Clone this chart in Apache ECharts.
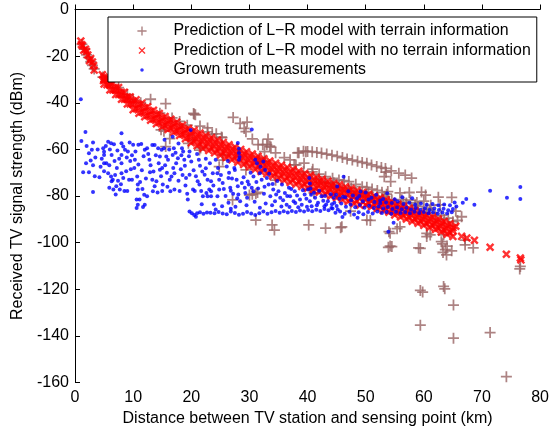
<!DOCTYPE html>
<html>
<head>
<meta charset="utf-8">
<script src="https://cdn.jsdelivr.net/npm/echarts@6/dist/echarts.min.js"></script>
<style>
  html, body { margin: 0; padding: 0; background: #fff; }
  #chart { width: 552px; height: 432px; }
</style>
</head>
<body>
<div id="chart"></div>
<script>
const xRange = [0, 80, 10];
const yRange = [-160, 0, 20];

const seriesNames = [
  "Prediction of L\u2212R model with terrain information",
  "Prediction of L\u2212R model with no terrain information",
  "Grown truth measurements",
];

// L-R prediction using terrain (brown +)
const terrainPoints = [
  [1.2, -15], [1.6, -17], [2.0, -19.5], [2.3, -20.5], [2.7, -22.5], [3.0, -24], [3.3, -25.5], [4.8, -29], [5.5, -30.5],
  [6.0, -31], [7.5, -33.5], [9.0, -36.5], [10.0, -38.8], [11.3, -40], [13.0, -38.5], [15.6, -40.4], [14.6, -44.5],
  [16.7, -46.5], [18.0, -48], [19.3, -49.6], [20.4, -44.6], [20.7, -45.2], [20.5, -44.9], [21.5, -50], [22.8, -50.8],
  [24.3, -53.3], [25.3, -55], [27.2, -46.3], [28.4, -48.8], [29.1, -51], [29.6, -48.3], [29.4, -52.4], [30.5, -55.5],
  [31.5, -58], [33.2, -55.6], [33.5, -58.6], [32.3, -58], [32.6, -61], [34.5, -61.5], [36.0, -63.5], [37.0, -64.5],
  [38.3, -61.5], [39.7, -61], [22.8, -52.5], [23.6, -53.5], [25.2, -54.7],
  [15.3, -52.2], [16.3, -55.4], [14.8, -51.6], [15.6, -58.8], [19.5, -57.4], [20.2, -56], [21.6, -59.4], [21.4, -60.3],
  [25.4, -62.4], [25.4, -64.6], [24.8, -67.4], [31.7, -63.8], [29.4, -68.8], [34.5, -73.2], [38.0, -66.7], [39.3, -69.6],
  [32.7, -65], [37.7, -66.6], [39.4, -65.9], [40.9, -68.5], [33.0, -58], [33.7, -59],
  [31.1, -79], [30.5, -79.3], [30.0, -79.6], [31.4, -78.5], [27.1, -81.7], [40.6, -77.4], [41.1, -78.7],
  [31.1, -90.3], [33.9, -92.4], [34.3, -94.6], [40.2, -92.4], [43.1, -93.8], [45.7, -93.6],
  [38.5, -61.4], [39.3, -60.8], [40.0, -60.9], [40.8, -61], [41.6, -61.3], [42.4, -61.6], [43.3, -62], [44.2, -62.5],
  [45.1, -63], [46.0, -63.5], [46.8, -64.1], [47.7, -64.6], [48.6, -65.1], [49.4, -65.6], [50.2, -66], [51.0, -66.7],
  [51.9, -67.3], [52.7, -67.8], [53.4, -68.2], [53.5, -69.8], [54.4, -69.2], [55.7, -70.2], [56.8, -71], [57.9, -72.3],
  [53.2, -71.7], [54.3, -73.8], [53.8, -78.1],
  [40.8, -69.6], [42.0, -70.6], [43.1, -71.7], [44.3, -72.4], [45.4, -73.1], [46.3, -73.4], [47.1, -73.8], [48.3, -75],
  [49.4, -76], [50.2, -76.3], [51.1, -77], [52.0, -77.6], [52.8, -78.4], [53.6, -79.2], [54.5, -81.7], [55.9, -78.7],
  [57.5, -78.5], [59.6, -78.3], [60.3, -79.6], [62.5, -80.5], [64.8, -80.6],
  [42.0, -74], [44.0, -75.8], [46.0, -77.5], [48.0, -78.8], [50.0, -80], [52.0, -81], [54.0, -82.5], [56.0, -84],
  [57.0, -83], [58.0, -85.5], [59.0, -84.5], [60.0, -87], [61.0, -86], [62.0, -88.5], [63.5, -90], [65.0, -91], [66.5, -88.9],
  [43.0, -74.6], [45.0, -76.5], [47.0, -78], [49.0, -79.3], [51.0, -80.5], [53.0, -81.8], [55.0, -83.2], [56.5, -82.6],
  [58.5, -84], [60.5, -85.2], [61.5, -87.2], [63.0, -88.3], [64.2, -89.5], [41.5, -72.8], [44.5, -74.3], [47.5, -76.6],
  [50.5, -78.4], [53.3, -80.2], [56.2, -81.6], [58.8, -82.8], [61.2, -84], [57.7, -81.8], [60.0, -82.2], [62.8, -83.8],
  [65.5, -86.5], [65.8, -90.5],
  [45.9, -93.2], [47.4, -86.5], [50.2, -90.3], [50.8, -90.5], [54.0, -95.3], [54.2, -96], [55.4, -94], [55.9, -93.2],
  [53.9, -102], [54.5, -101.7], [54.2, -101.5], [59.1, -102.3], [59.4, -102.5], [60.5, -96], [60.5, -97.4], [61.1, -96.7],
  [63.0, -99.6], [63.4, -96.7], [63.2, -100.5], [63.7, -103], [63.9, -105.3], [64.0, -101.5], [64.8, -103.5], [63.3, -104.2],
  [67.1, -98.9], [67.1, -101], [68.5, -102.3],
  [63.4, -118.8], [63.6, -119.8], [59.4, -120.5], [59.8, -121.2], [65.1, -126.8], [59.4, -135.4], [65.1, -141],
  [71.4, -138.6], [74.2, -157.5], [76.5, -111.3], [76.6, -110.2],
];

// L-R prediction without terrain (red x): start, band edges, band middle rows, then the tail
const noTerrainStart = [
  [1.1, -15], [1.3, -15.5], [1.8, -17], [2.2, -19.5], [2.7, -21], [3.2, -24], [4.9, -30.5],
];
const noTerrainBand = [
  [1.0, -13.5], [1.5, -17.5], [2.0, -18], [2.5, -22], [3.0, -22.5], [3.3, -26], [4.7, -28],
  [5.0, -32], [5.5, -29.3], [6.0, -34.5], [6.5, -31.5], [7.0, -36.5], [7.5, -33.5], [8.0, -38.5], [8.5, -35.5],
  [9.0, -40.5], [9.5, -37.5], [10.0, -43], [10.5, -38.7], [11.0, -44.5], [11.5, -40.2], [12.0, -46], [12.5, -41.7],
  [13.0, -47.5], [13.5, -43.2], [14.0, -49], [14.5, -44.6], [15.0, -50.3], [15.5, -45.9], [16.0, -51.5], [16.5, -47.1],
  [17.0, -52.7], [17.5, -48.3], [18.0, -54], [18.5, -49.7], [19.0, -55.4], [19.5, -51], [20.0, -57.2], [20.5, -51.8],
  [21.0, -58.4], [21.5, -53], [22.0, -59.5], [22.5, -54], [23.0, -60.5], [23.5, -55], [24.0, -61.5], [24.5, -56],
  [25.0, -62.5], [25.5, -57], [26.0, -63.5], [26.5, -58], [27.0, -64.5], [27.5, -59], [28.0, -65.5], [28.5, -60],
  [29.0, -66.5], [29.5, -61], [30.0, -67.5], [30.5, -62], [31.0, -68.5], [31.5, -63], [32.0, -69.5], [32.5, -64],
  [33.0, -70.5], [33.5, -65], [34.0, -71.5], [34.5, -65.9], [35.0, -72.4], [35.5, -66.8], [36.0, -73.3], [36.5, -67.7],
  [37.0, -74.2], [37.5, -68.6], [38.0, -75], [38.5, -69.4], [39.0, -75.9], [39.5, -70.3], [40.0, -76.7], [40.5, -71.1],
  [41.0, -77.6], [41.5, -72], [42.0, -78.4], [42.5, -72.8], [43.0, -79.3], [43.5, -73.7], [44.0, -80.1], [44.5, -74.6],
  [45.0, -80.8], [45.5, -75.2], [46.0, -81.6], [46.5, -76], [47.0, -82.4], [47.5, -76.8], [48.0, -83.2], [48.5, -77.6],
  [49.0, -84], [49.5, -78.4], [50.0, -83.8], [50.5, -79.2], [51.0, -84.6], [51.5, -80], [52.0, -85.4], [52.5, -80.8],
  [53.0, -86.2], [53.5, -81.6], [54.0, -87], [54.5, -82.4], [55.0, -88.1], [55.5, -83.5], [56.0, -89], [56.5, -84.4],
  [57.0, -89.9], [57.5, -85.3], [58.0, -90.8], [58.5, -86.2], [59.0, -91.7], [59.5, -87.1], [60.0, -92.6], [60.5, -88],
  [61.0, -93.5], [61.5, -88.9], [62.0, -94.4], [62.5, -89.9], [63.0, -95.4], [63.5, -90.9], [64.0, -96.4], [64.5, -91.9],
  [65.0, -97.4], [65.5, -93],
];
const noTerrainMid = [
  [5, -30], [6, -32.5], [7, -34.5], [8, -36.5], [9, -38.5], [10, -40.5], [11, -42], [12, -43.5], [13, -45], [14, -46.5],
  [15, -47.8], [16, -49], [17, -50.2], [18, -51.5], [19, -52.9], [20, -54.2], [21, -55.4], [22, -56.5], [23, -57.5],
  [24, -58.5], [25, -59.5], [26, -60.5], [27, -61.5], [28, -62.5], [29, -63.5], [30, -64.5], [31, -65.5], [32, -66.5],
  [33, -67.5], [34, -68.5], [35, -69.4], [36, -70.3], [37, -71.2], [38, -72], [39, -72.9], [40, -73.7], [41, -74.6],
  [42, -75.4], [43, -76.3], [44, -77.1], [45, -77.8], [46, -78.6], [47, -79.4], [48, -80.2], [49, -81], [50, -81.3],
  [51, -82.1], [52, -82.9], [53, -83.7], [54, -84.5], [55, -85.6], [56, -86.5], [57, -87.4], [58, -88.3], [59, -89.2],
  [60, -90.1], [61, -91], [62, -91.9], [63, -92.9], [64, -93.9], [65, -94.9],
];
const noTerrainUpper = [
  [5, -29], [6, -31.5], [7, -33.5], [8, -35.5], [9, -37.5], [10, -39.3], [11, -40.8], [12, -42.3], [13, -43.8],
  [14, -45.3], [15, -46.6], [16, -47.8], [17, -49], [18, -50.3], [19, -51.7], [20, -52.7], [21, -53.9], [22, -55],
  [23, -56], [24, -57], [25, -58], [26, -59], [27, -60], [28, -61], [29, -62], [30, -63], [31, -64], [32, -65], [33, -66],
  [34, -67], [35, -67.9], [36, -68.8], [37, -69.7], [38, -70.5], [39, -71.4], [40, -72.2], [41, -73.1], [42, -73.9],
  [43, -74.8], [44, -75.6], [45, -76.3], [46, -77.1], [47, -77.9], [48, -78.7], [49, -79.5], [50, -80], [51, -80.8],
  [52, -81.6], [53, -82.4], [54, -83.2], [55, -84.3], [56, -85.2], [57, -86.1], [58, -87], [59, -87.9], [60, -88.8],
  [61, -89.7], [62, -90.6], [63, -91.6], [64, -92.6], [65, -93.6],
];
const noTerrainLower = [
  [5.5, -32.3], [6.5, -34.5], [7.5, -36.5], [8.5, -38.5], [9.5, -40.5], [10.5, -42.5], [11.5, -44], [12.5, -45.5],
  [13.5, -47], [14.5, -48.4], [15.5, -49.7], [16.5, -50.9], [17.5, -52.1], [18.5, -53.5], [19.5, -54.8], [20.5, -56.3],
  [21.5, -57.5], [22.5, -58.5], [23.5, -59.5], [24.5, -60.5], [25.5, -61.5], [26.5, -62.5], [27.5, -63.5], [28.5, -64.5],
  [29.5, -65.5], [30.5, -66.5], [31.5, -67.5], [32.5, -68.5], [33.5, -69.5], [34.5, -70.4], [35.5, -71.3], [36.5, -72.2],
  [37.5, -73.1], [38.5, -73.9], [39.5, -74.8], [40.5, -75.6], [41.5, -76.5], [42.5, -77.3], [43.5, -78.2], [44.5, -79],
  [45.5, -79.7], [46.5, -80.5], [47.5, -81.3], [48.5, -82.1], [49.5, -82.5], [50.5, -83], [51.5, -83.8], [52.5, -84.6],
  [53.5, -85.4], [54.5, -86.3], [55.5, -87.3], [56.5, -88.3], [57.5, -89.1], [58.5, -90], [59.5, -90.9], [60.5, -91.8],
  [61.5, -92.7], [62.5, -93.7], [63.5, -94.7], [64.5, -95.7],
];
const noTerrainTail = [
  [66.5, -97.3], [67.4, -98], [68.7, -99], [71.4, -102], [74.2, -105], [76.6, -106.6], [76.7, -107.4],
];

// measured signal strength (blue dots)
const measuredNear = [
  [1.0, -38.5], [1.1, -56.4], [1.8, -52.6], [3.1, -57], [2.4, -61.7], [2.7, -64.8], [3.1, -66.8], [1.4, -69.8],
  [2.4, -69.8], [3.1, -78.3], [4.85, -59.5], [5.0, -61], [5.0, -62.4], [5.7, -56.7], [6.2, -57.4], [6.7, -57.8],
  [6.3, -62.4], [5.0, -66], [5.4, -66], [5.9, -66.8], [5.0, -69.4], [5.7, -70.2], [6.2, -71.6], [6.5, -73], [6.3, -73.7],
  [5.9, -76.5], [6.6, -77.2], [7.1, -75.8], [7.0, -79.4], [8.0, -53.1], [8.0, -57.4], [8.3, -58.8], [8.0, -62.4],
  [8.0, -66], [8.6, -60.2], [9.1, -60.9], [8.8, -69.4], [8.0, -70.2], [8.3, -72.3], [7.7, -77.2], [8.5, -77.9],
  [9.0, -77.9], [9.3, -73], [10.0, -58], [10.9, -58], [11.4, -57.7], [10.4, -60.9], [10.2, -68], [10.7, -71.6],
  [9.8, -73], [10.8, -75.1], [10.8, -77.2], [10.6, -81.5], [11.1, -81.5], [10.8, -83.7], [10.6, -85.1], [12.0, -83.7],
  [11.7, -84.7], [12.0, -60.2], [12.4, -59.5], [12.8, -64.5], [13.0, -66.8], [13.3, -58.1], [13.7, -58.1], [13.3, -73],
  [13.7, -75.8], [14.0, -73.7], [12.4, -80.1], [14.3, -59.5], [14.6, -63.1], [14.6, -68.7], [15.0, -68], [14.9, -60.2],
  [15.3, -59.5], [15.4, -55.9], [15.1, -75.1], [15.0, -77.9], [15.7, -63.1], [16.0, -64.5], [16.3, -73], [16.6, -71.6],
  [16.8, -62.4], [17.0, -59.5], [17.1, -70.2], [17.7, -63.8], [17.4, -66], [17.1, -77.2], [18.0, -77.9], [18.4, -59.5],
  [18.6, -60.9], [18.8, -64.5], [19.1, -72.3], [19.4, -81.5], [19.7, -60.9], [20.0, -65.2], [19.7, -70.9], [20.3, -77.2],
  [20.6, -77.9], [21.1, -73.7], [21.4, -75.1], [21.7, -77.9], [22.0, -80.1], [22.6, -78.7], [22.3, -70.9], [23.1, -77.2],
  [23.4, -80.1], [16.8, -54.6], [19.9, -51.7], [3.9, -60], [4.2, -72], [7.3, -60.5], [7.6, -64], [9.5, -65], [9.6, -68.5],
  [11.8, -63], [11.5, -69], [12.2, -72.5], [13.5, -69.5], [14.2, -78.5], [16.4, -78], [18.2, -68.5], [19.0, -75.5],
  [17.8, -73.5], [21.0, -62], [21.5, -67], [22.5, -64],
];
const measuredExtra = [
  [2.0, -58.5], [2.9, -60.2], [3.5, -63.5], [1.9, -66], [3.4, -71.5], [4.6, -64], [4.4, -67.5], [5.3, -58.5], [6.0, -60],
  [6.8, -65], [7.2, -68], [6.9, -71], [7.4, -73.5], [7.9, -75], [8.9, -63.5], [9.4, -57], [9.8, -62.5], [10.3, -64.5],
  [10.9, -66.5], [11.2, -74], [11.6, -77], [11.9, -79.5], [12.6, -62], [12.9, -69.8], [13.4, -78], [13.9, -62.5],
  [14.4, -66], [14.8, -71.5], [15.5, -66.8], [15.8, -70], [15.9, -76], [16.2, -60], [16.9, -68], [17.3, -61.5],
  [17.8, -57.5], [18.3, -62.5], [18.5, -71], [18.9, -67], [19.3, -79], [19.6, -63], [20.4, -69], [20.8, -71.5],
  [21.3, -64.5], [21.9, -69.5], [22.8, -73], [23.2, -66], [23.8, -75.5], [24.2, -64.5], [24.6, -68], [25.1, -71],
  [25.6, -77], [25.9, -80], [26.3, -65], [27.2, -79], [27.9, -81], [29.0, -72], [29.7, -73.8], [30.2, -70], [31.2, -74],
  [31.9, -67.5], [32.6, -76], [33.4, -70.5], [34.0, -74.8], [34.6, -79.4], [35.8, -81.8], [36.5, -80], [37.2, -77],
  [37.9, -83], [39.8, -81.2], [41.6, -84], [43.2, -83.6], [42.7, -82], [29.5, -84], [31.8, -85], [33.9, -84],
  [36.9, -84.7], [39.9, -84.6], [26.8, -85.5], [24.2, -85.8], [21.8, -83.5],
  [44.9, -79.5], [46.1, -80.3], [47.8, -79.8], [48.9, -80], [51.0, -80.8], [53.0, -81.3], [55.0, -81.4],
];
const measuredFloor = [
  [19.7, -86.6], [20.1, -87.4], [20.5, -88.2], [20.8, -88.9], [21.0, -87.4], [21.5, -87], [22.1, -87.6], [22.7, -87.1],
  [23.3, -87.2], [24.0, -87.4], [24.7, -86.9], [25.4, -87.5], [26.1, -87.8], [26.8, -86.6], [27.5, -87.3], [28.2, -88],
  [28.9, -87.6], [29.6, -86.9], [30.3, -87.5], [31.0, -88.1], [31.7, -87.4], [32.4, -86.7], [33.1, -87.6], [33.8, -87],
  [34.5, -86.4], [35.2, -87.2], [35.9, -86.5], [36.6, -87.1], [37.3, -86.4], [38.0, -86.9], [38.7, -86.2], [39.4, -86.7],
  [40.1, -86], [40.8, -86.5], [41.5, -85.9], [42.2, -86.4], [42.9, -85.6], [43.6, -86.1], [44.3, -85.4],
];
const measuredMid = [
  [22.5, -68.1], [23.7, -70.2], [23.4, -73.7], [23.4, -78], [22.8, -80.1], [24.5, -70.2], [24.8, -73], [25.4, -74.4],
  [24.8, -77.2], [24.5, -80.1], [26.1, -67.3], [26.4, -72.3], [26.7, -76.5], [26.4, -82.9], [27.5, -68.8], [27.8, -73],
  [28.0, -75.8], [28.1, -79.4], [28.4, -82.2], [28.7, -74.4], [29.2, -76.5], [29.3, -78.7], [29.6, -80.8], [29.9, -75.1],
  [30.4, -76.5], [30.7, -78], [30.7, -71.6], [31.0, -64.5], [31.3, -65.9], [31.8, -70.2], [32.1, -73], [32.7, -68.8],
  [32.4, -65.2], [33.0, -72.3], [33.3, -75.1], [33.6, -80.1], [34.1, -77.2], [34.4, -82.2], [35.0, -78], [35.3, -80.8],
  [35.6, -75.1], [36.1, -78.7], [36.4, -83.7], [37.0, -80.1], [37.6, -82.2], [37.8, -78], [38.7, -81.5], [39.0, -83.7],
  [39.5, -79.4], [40.1, -77.2], [40.4, -82.2], [40.7, -84.4], [41.3, -80.8], [41.8, -82.9], [42.4, -80.1], [42.9, -84.4],
  [43.5, -82.2], [44.1, -85.1], [44.6, -82.9], [45.2, -85.8],
  [28.0, -57.3], [28.2, -59.7], [28.2, -61.6], [28.3, -63.3], [28.2, -64.4], [27.4, -68], [26.5, -70], [27.0, -72.5],
  [26.8, -77.7], [30.4, -51.5], [40.3, -72.3], [40.4, -74.6], [40.5, -76.8], [40.6, -79.5], [46.2, -71.7],
  [31.5, -76.8], [32.5, -79], [34.8, -73.6], [36.8, -76.5], [38.2, -79.8], [39.2, -77.5], [41.1, -78.6], [42.0, -77.8],
  [43.0, -80], [44.0, -79.2], [35.5, -84.5], [38.4, -84.8], [32.8, -83.2], [30.9, -82.5], [27.6, -84.6], [25.3, -84.4],
  [23.9, -83.6],
];
const measuredFar = [
  [44.5, -80.8], [45.5, -81.2], [46.5, -80.5], [47.5, -81.8], [48.5, -81], [49.5, -82.2], [50.5, -81.5], [51.5, -82.6],
  [52.5, -81.9], [53.5, -82.8], [54.5, -83], [55.5, -82.4], [56.5, -83.4], [57.5, -82.9], [58.5, -83.6], [59.5, -83.2],
  [60.5, -83.8], [61.5, -83.4], [62.5, -84], [63.5, -83.6], [64.5, -84], [65.3, -82.8],
  [44.2, -83.5], [45.0, -84.3], [45.8, -83.2], [46.6, -84.6], [47.4, -83.6], [48.2, -84.8], [49.0, -83.9], [49.8, -85],
  [50.6, -84.2], [51.4, -85.2], [52.2, -84.5], [53.0, -85.4], [53.8, -84.7], [54.6, -85.6], [55.4, -84.9], [56.2, -85.7],
  [57.0, -85], [57.8, -85.8], [58.6, -85.1], [59.4, -85.9], [60.2, -85.3], [61.0, -86], [61.8, -85.4], [62.6, -86],
  [63.4, -85.5], [64.2, -86.1], [65.0, -85.6], [65.6, -84.5],
  [44.8, -87.2], [45.6, -86.6], [46.4, -87.6], [47.2, -86.8], [48.0, -87.9], [48.8, -87], [49.6, -87.8], [50.4, -86.9],
  [51.2, -87.5], [52.0, -86.7], [52.8, -87.3], [53.6, -86.9], [54.4, -87.6], [55.2, -86.8], [56.0, -87.3], [56.8, -86.9],
  [57.6, -87.4], [58.4, -86.8], [59.2, -87.3], [60.0, -86.9], [60.8, -87.4], [61.6, -87], [62.4, -87.5], [63.2, -87.1],
  [64.0, -87.5], [64.8, -87],
  [45.1, -75.9], [47.0, -78], [49.1, -78.1], [52.5, -83.1], [53.7, -78.8], [53.9, -95.3], [54.8, -91.5], [46.0, -89],
  [48.6, -89.3], [50.0, -78.5], [51.8, -79.5], [56.3, -80.5], [58.0, -81], [66.7, -82.9], [67.3, -81.3], [68.7, -83.7],
  [71.4, -77.8], [74.3, -80.7], [76.6, -76.1], [76.6, -81.3],
];

const plusPath = "path://M-0.8,-5H0.8V5H-0.8Z M-5,-0.8H5V0.8H-5Z";
const crossPath = "path://M-3.5,-2.1L-2.1,-3.5L0,-1.4L2.1,-3.5L3.5,-2.1L1.4,0L3.5,2.1L2.1,3.5L0,1.4L-2.1,3.5L-3.5,2.1L-1.4,0Z";
// legend icons: same marks inside a fixed 12x12 box so they keep their own size
const plusIcon = "path://M-6,-6M6,6M-0.7,-4.6H0.7V4.6H-0.7Z M-4.6,-0.7H4.6V0.7H-4.6Z";
const crossIcon = "path://M-6,-6M6,6M-3.5,-2.6L-2.6,-3.5L0,-0.9L2.6,-3.5L3.5,-2.6L0.9,0L3.5,2.6L2.6,3.5L0,0.9L-2.6,3.5L-3.5,2.6L-0.9,0Z";
const dotIcon = "path://M-6,-6M6,6M1.8,0L1.27,1.27L0,1.8L-1.27,1.27L-1.8,0L-1.27,-1.27L0,-1.8L1.27,-1.27Z";

const font = "'Liberation Sans', Arial, Helvetica, sans-serif";

const chart = echarts.init(document.getElementById("chart"));
chart.setOption({
  animation: false,
  backgroundColor: "#fff",
  textStyle: { fontFamily: font },
  grid: { left: 75, right: 10, top: 9.5, bottom: 49.5 },
  legend: {
    orient: "vertical",
    left: 108,
    top: 17,
    itemWidth: 53,
    itemHeight: 12,
    itemGap: 0.5,
    padding: [4.5, 6, 2.5, 28],
    borderColor: "#000",
    borderWidth: 1,
    backgroundColor: "#fff",
    selectedMode: false,
    textStyle: { fontSize: 15.9, color: "#000", fontFamily: font, lineHeight: 19 },
    data: [
      { name: seriesNames[0], icon: plusIcon },
      { name: seriesNames[1], icon: crossIcon },
      { name: seriesNames[2], icon: dotIcon },
    ],
  },
  xAxis: {
    type: "value",
    min: xRange[0],
    max: xRange[1],
    interval: xRange[2],
    name: "Distance between TV station and sensing point (km)",
    nameLocation: "middle",
    nameGap: 16.5,
    nameTextStyle: { fontSize: 16, color: "#000", fontFamily: font },
    axisLine: { lineStyle: { color: "#000", width: 1 } },
    axisTick: { inside: true, length: 5, lineStyle: { color: "#000" } },
    axisLabel: { fontSize: 16, color: "#000", margin: 7, fontFamily: font },
    splitLine: { show: false },
  },
  yAxis: {
    type: "value",
    min: yRange[0],
    max: yRange[1],
    interval: yRange[2],
    name: "Received TV signal strength (dBm)",
    nameLocation: "middle",
    nameGap: 48,
    nameTextStyle: { fontSize: 16, color: "#000", fontFamily: font },
    axisLine: { show: true, lineStyle: { color: "#000", width: 1 } },
    axisTick: { show: true, inside: true, length: 5, lineStyle: { color: "#000" } },
    axisLabel: { fontSize: 16, color: "#000", margin: 6, fontFamily: font },
    splitLine: { show: false },
  },
  series: [
    {
      name: seriesNames[0],
      type: "scatter",
      symbol: plusPath,
      symbolSize: 11,
      itemStyle: { color: "#986464" },
      data: terrainPoints,
    },
    {
      name: seriesNames[1],
      type: "scatter",
      symbol: crossPath,
      symbolSize: 8.5,
      itemStyle: { color: "#ff0000" },
      data: noTerrainStart.concat(noTerrainBand, noTerrainMid, noTerrainUpper, noTerrainLower, noTerrainTail),
    },
    {
      name: seriesNames[2],
      type: "scatter",
      symbol: "circle",
      symbolSize: 4,
      itemStyle: { color: "#0000ff" },
      data: measuredNear.concat(measuredExtra, measuredFloor, measuredMid, measuredFar),
    },
  ],
});
</script>
</body>
</html>
